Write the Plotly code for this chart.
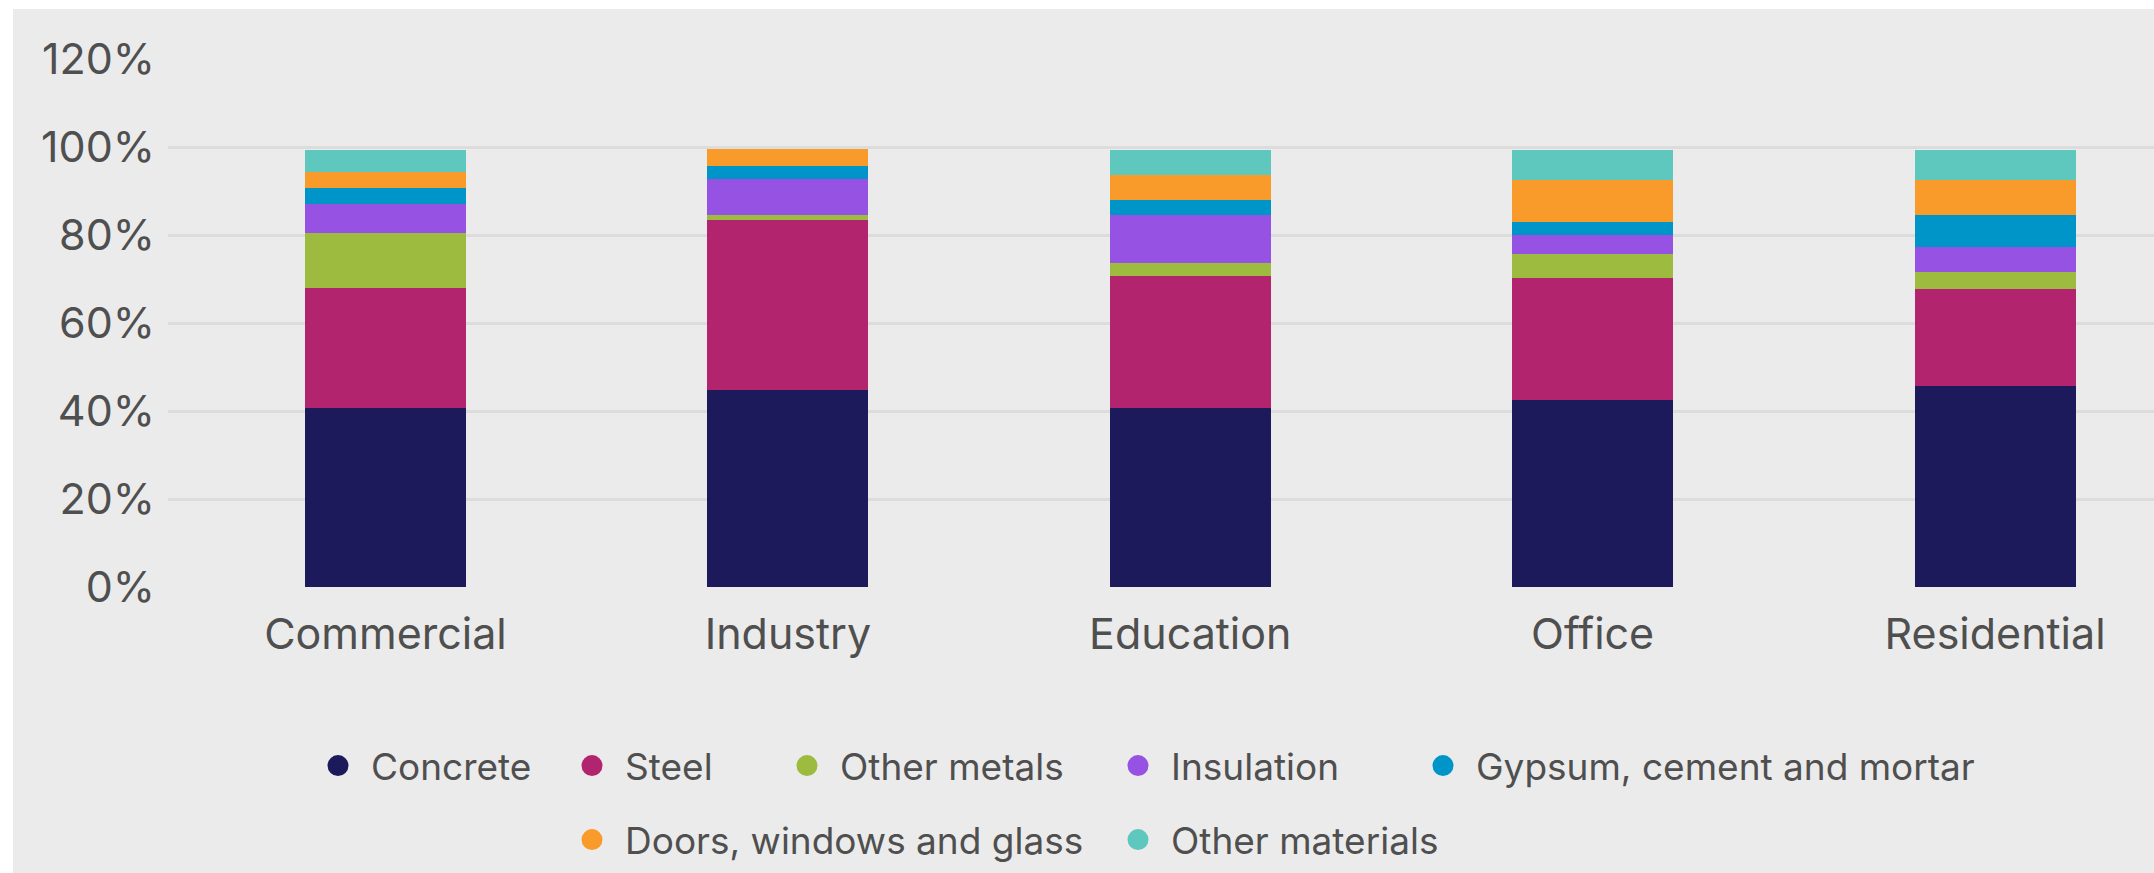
import plotly.graph_objects as go

categories = ["Commercial", "Industry", "Education", "Office", "Residential"]
concrete = [40.6, 44.7, 40.7, 42.5, 45.7]
steel = [27.3, 38.6, 29.9, 27.8, 22.1]
other_metals = [12.6, 1.2, 3.1, 5.4, 3.8]
insulation = [6.5, 8.2, 10.9, 4.4, 5.6]
gypsum = [3.6, 2.9, 3.3, 2.9, 7.4]
doors = [3.7, 3.9, 5.8, 9.5, 8.0]
other_materials = [5.0, 0.0, 5.7, 6.9, 6.8]

series_names = ["Concrete", "Steel", "Other metals", "Insulation",
                "Gypsum, cement and mortar", "Doors, windows and glass", "Other materials"]
series_values = [concrete, steel, other_metals, insulation, gypsum, doors, other_materials]
colors = ["#1C1A5A", "#B3246F", "#9DBB3F", "#9652E3", "#0095C8", "#F89B2A", "#5EC8BE"]

W, H = 2154, 873
ML, MR, MT, MB = 168, 0, 59, 286
PW, PH = W - ML - MR, H - MT - MB

def px_x(p):
    return (p - ML) / PW

def px_y(p):
    return (H - MB - p) / PH

FONT = "Inter"
TXT = "#4f4f4f"

fig = go.Figure()
for name, vals, col in zip(series_names, series_values, colors):
    fig.add_trace(go.Bar(x=categories, y=vals, name=name, marker=dict(color=col, line=dict(width=0)),
                         showlegend=False))

# legend entries (each in its own legend so positions match the reference)
legend_pos = [(339, 766), (593, 766), (808, 766), (1139, 766), (1444, 766), (593, 840), (1139, 840)]
layout_legends = {}
for i, (name, col, (lx, ly)) in enumerate(zip(series_names, colors, legend_pos)):
    key = "legend" if i == 0 else f"legend{i+1}"
    fig.add_trace(go.Scatter(x=[None], y=[None], mode="markers", name=name,
                             marker=dict(symbol="circle", size=16, color=col, line=dict(color=col, width=5)),
                             showlegend=True, legend=key))
    layout_legends[key] = dict(
        x=px_x(lx - 34), y=px_y(ly), xanchor="left", yanchor="middle",
        orientation="h", bgcolor="rgba(0,0,0,0)", borderwidth=0,
        font=dict(family=FONT, size=37, color=TXT), itemwidth=56,
    )

fig.update_layout(
    width=W, height=H,
    margin=dict(l=ML, r=MR, t=MT, b=MB, pad=0),
    paper_bgcolor="#EBEBEB", plot_bgcolor="#EBEBEB",
    barmode="stack", bargap=0.6,
    font=dict(family=FONT, color=TXT),
    xaxis=dict(range=[-0.5405, 4.395], showgrid=False, zeroline=False, showline=False, ticks="",
               tickfont=dict(family=FONT, size=43, color=TXT), ticklabelstandoff=18),
    yaxis=dict(range=[0, 120], dtick=20, ticksuffix="%", showgrid=True, gridcolor="#DCDCDC", gridwidth=2.5,
               zeroline=False, showline=False, ticks="",
               tickfont=dict(family=FONT, size=43, color=TXT), ticklabelstandoff=12),
    shapes=[
        dict(type="rect", xref="paper", yref="paper", x0=px_x(0), x1=px_x(W + 5), y0=px_y(9), y1=px_y(-5),
             fillcolor="white", line=dict(width=0), layer="below"),
        dict(type="rect", xref="paper", yref="paper", x0=px_x(-5), x1=px_x(13), y0=px_y(H + 5), y1=px_y(-5),
             fillcolor="white", line=dict(width=0), layer="below"),
    ],
    **layout_legends,
)

fig.write_html("out.html")
